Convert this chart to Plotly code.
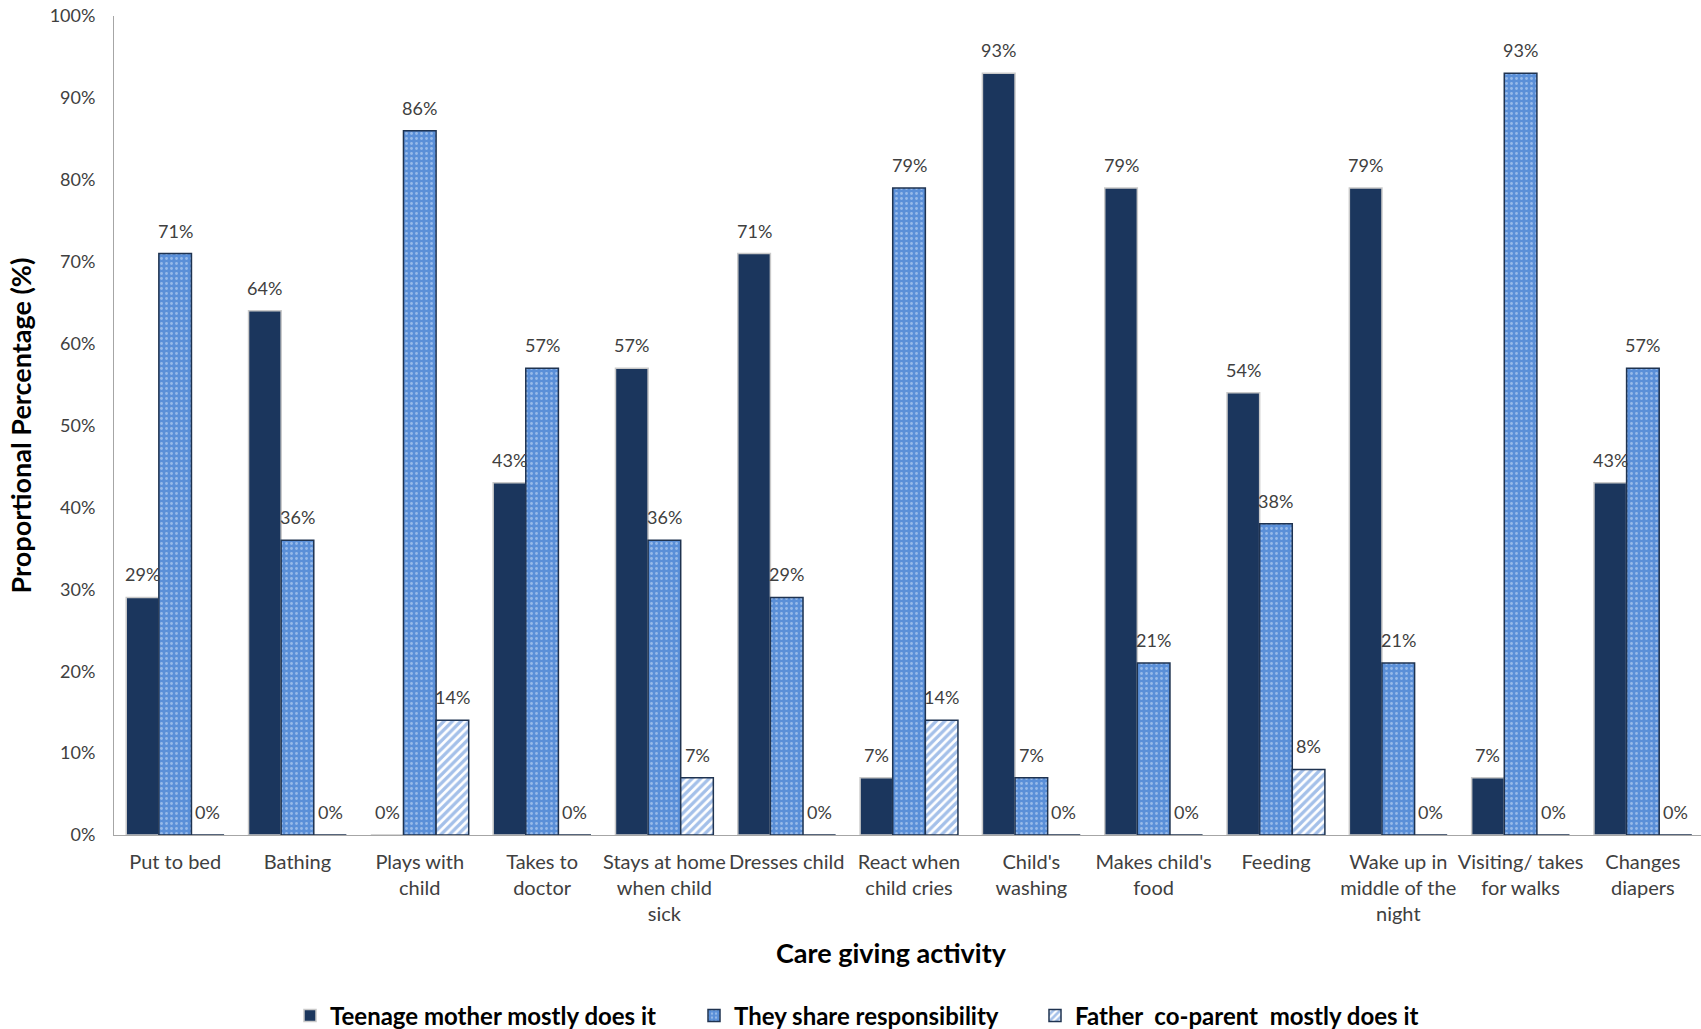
import plotly.graph_objects as go

categories = ["Put to bed", "Bathing", "Plays with<br>child", "Takes to<br>doctor",
              "Stays at home<br>when child<br>sick", "Dresses child", "React when<br>child cries",
              "Child's<br>washing", "Makes child's<br>food", "Feeding",
              "Wake up in<br>middle of the<br>night", "Visiting/ takes<br>for walks", "Changes<br>diapers"]
teen_mother = [29, 64, 0, 43, 57, 71, 7, 93, 79, 54, 79, 7, 43]
shared = [71, 36, 86, 57, 36, 29, 79, 7, 21, 38, 21, 93, 57]
father = [0, 0, 14, 0, 7, 0, 14, 0, 0, 8, 0, 0, 0]
series_names = ["Teenage mother mostly does it", "They share responsibility",
                "Father  co-parent  mostly does it"]
y_ticks = [0, 10, 20, 30, 40, 50, 60, 70, 80, 90, 100]

FONT = "Lato, 'Open Sans', sans-serif"
NAVY = "#1b365d"
BLUE = "#5a8fd8"
TXT = "#404040"

W, H = 1701, 1029
ML, MR, MT, MB = 114, 0, 16, 194
X_RANGE = [-0.5, 12.475]
BARGAP = 0.2
pw = W - ML - MR
ph = H - MT - MB

fig = go.Figure()

fig.add_trace(go.Bar(
    x=categories, y=teen_mother, name=series_names[0], legend="legend",
    marker=dict(color=NAVY, line=dict(color="#c9c9c9", width=1.5)),
))
fig.add_trace(go.Bar(
    x=categories, y=shared, name=series_names[1], legend="legend2",
    marker=dict(color=BLUE, line=dict(color="#1f3350", width=1.5),
                pattern=dict(shape=".", fgcolor="#d6e5fa", bgcolor=BLUE,
                             size=5, solidity=0.25)),
))
fig.add_trace(go.Bar(
    x=categories, y=father, name=series_names[2], legend="legend3",
    marker=dict(color="white", line=dict(color="#1f3350", width=1.5),
                pattern=dict(shape="/", fgcolor="#4a82d4", bgcolor="white",
                             size=6, solidity=0.55)),
))

# data labels placed above each bar via annotations anchored to data values
unit_px = pw / (X_RANGE[1] - X_RANGE[0])
bar_px = unit_px * (1 - BARGAP) / 3
annotations = []
for k, series in enumerate([teen_mother, shared, father]):
    for cat, v in zip(categories, series):
        annotations.append(dict(
            x=cat, y=v, xref="x", yref="y", text=f"{v}%", showarrow=False,
            xshift=(k - 1) * bar_px, yshift=23, yanchor="middle",
            font=dict(family=FONT, size=18, color=TXT),
        ))
annotations.append(dict(
    x=(891 - ML) / pw, xref="paper", y=(H - MB - 952) / ph, yref="paper",
    yanchor="middle", text="Care giving activity", showarrow=False,
    font=dict(family=FONT, size=27, color="black", weight="bold"),
))

legend_common = dict(orientation="h", xanchor="left",
                     yref="container", y=1 - 1016 / H, yanchor="middle",
                     font=dict(family=FONT, size=24, color="black", weight="bold"),
                     itemwidth=30, bgcolor="rgba(0,0,0,0)")
legend_left_px = [290, 694, 1035]

fig.update_layout(
    width=W, height=H,
    margin=dict(l=ML, r=MR, t=MT, b=MB),
    plot_bgcolor="white", paper_bgcolor="white",
    barmode="group", bargap=BARGAP, bargroupgap=0,
    font=dict(family=FONT, size=18, color=TXT),
    legend=dict(x=(legend_left_px[0] - ML) / pw, **legend_common),
    legend2=dict(x=(legend_left_px[1] - ML) / pw, **legend_common),
    legend3=dict(x=(legend_left_px[2] - ML) / pw, **legend_common),
    showlegend=True,
    annotations=annotations,
)
fig.update_xaxes(
    type="category", range=X_RANGE, automargin=False,
    showline=True, linecolor="#a6a6a6", linewidth=1,
    ticks="", ticklabelstandoff=9, tickangle=0,
    tickfont=dict(family=FONT, size=20, color=TXT),
)
fig.update_yaxes(
    range=[0, 100], tickvals=y_ticks, ticktext=[f"{v}%" for v in y_ticks],
    showgrid=False, zeroline=False, automargin=False,
    showline=True, linecolor="#a6a6a6", linewidth=1,
    ticks="", ticklabelstandoff=14,
    tickfont=dict(family=FONT, size=18, color=TXT),
    title=dict(text="Proportional Percentage (%)", standoff=10,
               font=dict(family=FONT, size=27, color="black", weight="bold")),
)

fig.write_html("out.html")
